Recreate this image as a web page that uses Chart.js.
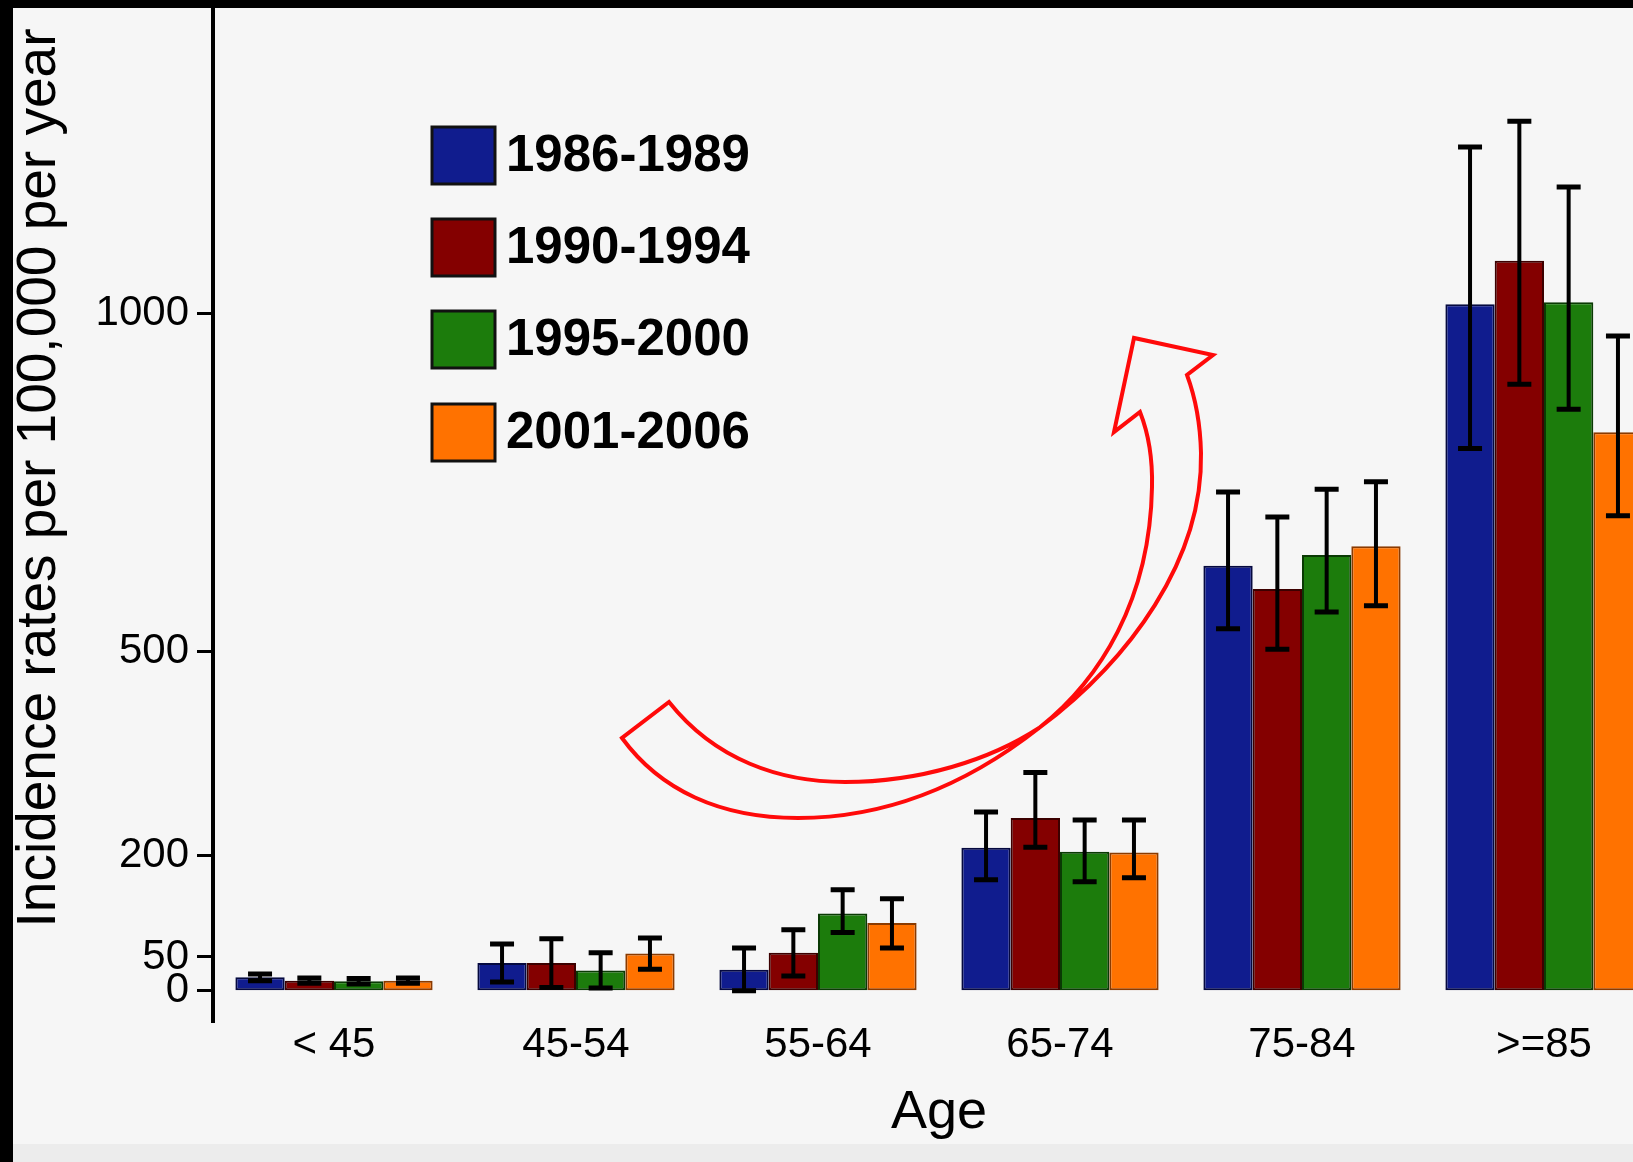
<!DOCTYPE html>
<html>
<head>
<meta charset="utf-8">
<title>Incidence rates by age</title>
<script src="https://cdn.jsdelivr.net/npm/chart.js@4.4.1/dist/chart.umd.min.js"></script>
<style>
  html, body { margin: 0; padding: 0; width: 1633px; height: 1162px; overflow: hidden; background: #f6f6f6; }
  #wrap { position: absolute; left: 0; top: 0; width: 1700px; height: 1162px; }
  .frame { position: absolute; background: #000; }
</style>
</head>
<body>
<div id="wrap"><canvas id="chart"></canvas></div>
<div class="frame" style="left:0;top:0;width:1633px;height:8px"></div>
<div class="frame" style="left:0;top:0;width:13px;height:1162px"></div>
<div style="position:absolute;left:13px;top:1144px;width:1620px;height:18px;background:#ececec"></div>
<script>
// age groups and periods
const ageGroups = ['< 45', '45-54', '55-64', '65-74', '75-84', '>=85'];
const periods = ['1986-1989', '1990-1994', '1995-2000', '2001-2006'];
const yTicks = [0, 50, 200, 500, 1000];

// mean incidence per 100,000 per year
const rates1986 = [20, 41, 31, 211, 627, 1013];
const rates1990 = [15, 41, 56, 255, 593, 1077];
const rates1995 = [14, 30, 114, 205, 643, 1016];
const rates2001 = [15, 55, 100, 204, 656, 824];

// error bar limits (upper / lower)
const upper1986 = [25, 69, 63, 264, 736, 1245];
const upper1990 = [19, 77, 90, 322, 699, 1283];
const upper1995 = [18, 56, 149, 252, 740, 1186];
const upper2001 = [19, 78, 136, 252, 751, 966];
const lower1986 = [15, 13, 0, 164, 534, 800];
const lower1990 = [11, 5, 22, 212, 504, 895];
const lower1995 = [10, 4, 86, 161, 559, 858];
const lower2001 = [11, 32, 63, 167, 568, 701];

const fillColors = ['#101c8e', '#840000', '#1c7c0c', '#ff7200'];
const edgeColors = ['#05093f', '#3c0000', '#0a3a04', '#8a3a00'];

const FONT = "'Liberation Sans', Arial, Helvetica, sans-serif";
Chart.defaults.font.family = FONT;
Chart.defaults.color = '#000';

const seriesValues = [rates1986, rates1990, rates1995, rates2001];
const seriesUpper = [upper1986, upper1990, upper1995, upper2001];
const seriesLower = [lower1986, lower1990, lower1995, lower2001];

const datasets = periods.map((p, i) => ({
  label: p,
  data: seriesValues[i],
  errHigh: seriesUpper[i],
  errLow: seriesLower[i],
  backgroundColor: fillColors[i],
  borderColor: edgeColors[i],
  borderWidth: 2,
  borderSkipped: false,
  categoryPercentage: 0.815,
  barPercentage: 1.0
}));

// error bars on top of the bars
const errorBars = {
  id: 'errorBars',
  afterDatasetsDraw(chart) {
    const ctx = chart.ctx;
    const y = chart.scales.y;
    ctx.save();
    ctx.strokeStyle = '#000';
    chart.data.datasets.forEach((ds, i) => {
      const meta = chart.getDatasetMeta(i);
      meta.data.forEach((bar, j) => {
        const top = y.getPixelForValue(ds.errHigh[j]);
        const bot = y.getPixelForValue(ds.errLow[j]);
        ctx.lineWidth = 4;
        ctx.beginPath();
        ctx.moveTo(bar.x, top);
        ctx.lineTo(bar.x, bot);
        ctx.stroke();
        ctx.lineWidth = 5;
        ctx.beginPath();
        ctx.moveTo(bar.x - 12, top);
        ctx.lineTo(bar.x + 12, top);
        ctx.moveTo(bar.x - 12, bot);
        ctx.lineTo(bar.x + 12, bot);
        ctx.stroke();
      });
    });
    ctx.restore();
  }
};

// vertical legend, y title and the red curved arrow
const decorations = {
  id: 'decorations',
  afterDraw(chart) {
    const ctx = chart.ctx;
    ctx.save();

    // legend
    const rowY = [155, 247, 339, 432];
    chart.data.datasets.forEach((ds, i) => {
      const cy = rowY[i];
      ctx.fillStyle = ds.backgroundColor;
      ctx.fillRect(432, cy - 28, 63, 57);
      ctx.lineWidth = 3;
      ctx.strokeStyle = '#111';
      ctx.strokeRect(432, cy - 28, 63, 57);
      ctx.fillStyle = '#000';
      ctx.font = 'bold 51px ' + FONT;
      ctx.textAlign = 'left';
      ctx.textBaseline = 'middle';
      ctx.fillText(ds.label, 506, cy + 2);
    });

    // y axis title
    ctx.save();
    ctx.translate(40, 478);
    ctx.rotate(-Math.PI / 2);
    ctx.font = '55px ' + FONT;
    ctx.textAlign = 'center';
    ctx.textBaseline = 'middle';
    ctx.fillStyle = '#000';
    ctx.fillText('Incidence rates per 100,000 per year', 0, 0);
    ctx.restore();

    // red outlined arrow
    ctx.strokeStyle = '#ff0a0a';
    ctx.lineWidth = 4;
    ctx.lineJoin = 'miter';
    ctx.beginPath();
    ctx.moveTo(669, 702);
    ctx.bezierCurveTo(715, 760, 780, 782, 845, 782);
    ctx.bezierCurveTo(920, 782, 990, 760, 1039, 728);
    ctx.bezierCurveTo(1130, 660, 1203, 560, 1201, 453);
    ctx.quadraticCurveTo(1200, 410, 1187, 375);
    ctx.lineTo(1213, 355);
    ctx.lineTo(1134, 338);
    ctx.lineTo(1114, 432);
    ctx.lineTo(1140, 412);
    ctx.quadraticCurveTo(1153, 445, 1152, 487);
    ctx.bezierCurveTo(1150, 600, 1100, 680, 1039, 728);
    ctx.bezierCurveTo(960, 790, 880, 818, 798, 818);
    ctx.bezierCurveTo(720, 818, 660, 790, 622, 738);
    ctx.closePath();
    ctx.stroke();

    ctx.restore();
  }
};

new Chart(document.getElementById('chart'), {
  type: 'bar',
  data: { labels: ageGroups, datasets: datasets },
  options: {
    responsive: true,
    maintainAspectRatio: false,
    animation: false,
    layout: { padding: { left: 0, right: 35, top: 8, bottom: 0 } },
    plugins: {
      legend: { display: false },
      tooltip: { enabled: false }
    },
    scales: {
      x: {
        grid: { display: false },
        border: { display: false },
        ticks: { font: { size: 42 }, padding: -10, color: '#000' },
        title: { display: true, text: 'Age', font: { size: 54 }, color: '#000', padding: { top: 0, bottom: 16 } },
        afterFit(scale) { scale.height = 140; }
      },
      y: {
        min: -46,
        max: 1450,
        afterBuildTicks(scale) { scale.ticks = yTicks.map(v => ({ value: v })); },
        afterFit(scale) {
          scale.width = 213;
          scale.paddingTop = 0;
          scale.paddingBottom = 0;
        },
        grid: { drawOnChartArea: false, drawTicks: true, tickLength: 16, tickWidth: 3, color: '#000' },
        border: { display: true, color: '#000', width: 4 },
        ticks: { autoSkip: false, font: { size: 42 }, padding: 8, color: '#000', callback: v => String(v) }
      }
    }
  },
  plugins: [errorBars, decorations]
});
</script>
</body>
</html>
